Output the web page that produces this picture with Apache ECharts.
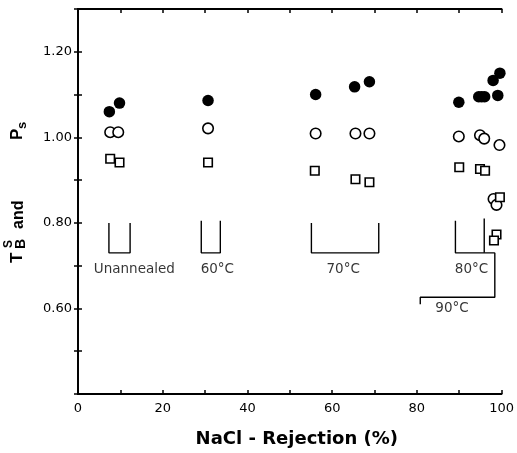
<!DOCTYPE html>
<html>
<head>
<meta charset="utf-8">
<script src="https://cdn.jsdelivr.net/npm/echarts@6/dist/echarts.min.js"></script>
<style>html,body{margin:0;padding:0;background:#fff;}#c{width:517px;height:453px;}</style>
</head>
<body>
<div id="c"></div>
<script>
// NaCl rejection (%) vs value
const filledCircles = [[7.4,1.060],[9.8,1.080],[30.7,1.086],[56.1,1.100],[65.3,1.118],[68.8,1.130],[89.9,1.082],[94.6,1.095],[95.3,1.095],[96.0,1.095],[99.1,1.098],[98.0,1.133],[99.6,1.150]];
const openCircles = [[7.6,1.012],[9.5,1.012],[30.7,1.021],[56.1,1.009],[65.5,1.009],[68.8,1.009],[89.9,1.002],[94.9,1.005],[95.9,0.997],[99.5,0.982],[98.1,0.856],[98.8,0.842]];
const openSquares = [[7.6,0.950],[9.8,0.941],[30.7,0.941],[55.9,0.922],[65.5,0.902],[68.8,0.895],[90.0,0.930],[94.9,0.926],[96.1,0.922],[99.6,0.860],[98.8,0.773],[98.2,0.759]];
const xTickLabels = [0,20,40,60,80,100];
const yTickLabels = [0.6,0.8,1.0,1.2];
// annotation brackets (data coordinates)
const brackets = [
  [[7.3,0.80],[7.3,0.73],[12.3,0.73],[12.3,0.80]],
  [[29.1,0.805],[29.1,0.73],[33.6,0.73],[33.6,0.805]],
  [[55.1,0.80],[55.1,0.73],[71.0,0.73],[71.0,0.80]],
  [[89.1,0.805],[89.1,0.73],[98.4,0.73]],
  [[95.9,0.81],[95.9,0.73]],
  [[98.4,0.73],[98.4,0.626],[80.8,0.626],[80.8,0.61]]
];
const groupLabels = ['Unannealed','60°C','70°C','80°C','90°C'];
const groupLabelPos = [[13.3,0.691],[32.9,0.69],[62.6,0.69],[92.9,0.69],[88.3,0.60]];

const chart = echarts.init(document.getElementById('c'), null, {renderer:'canvas'});
const axisLine = {show:true, lineStyle:{color:'#000', width:1.8}};
const axisTick = {show:true, inside:true, length:4, lineStyle:{color:'#000', width:1.5}};
const lblFont = {color:'#000', fontFamily:'DejaVu Sans', fontSize:13};

const series = [];
brackets.forEach(b => series.push({
  type:'line', data:b, symbol:'none', silent:true, animation:false,
  lineStyle:{color:'#000', width:1.4}, z:1
}));
series.push({type:'scatter', name:'Ps', data:filledCircles, symbol:'circle', symbolSize:11.5,
  itemStyle:{color:'#000', opacity:1}, animation:false, z:3});
series.push({type:'scatter', name:'open', data:openCircles, symbol:'circle', symbolSize:10.5,
  itemStyle:{color:'#fff', borderColor:'#000', borderWidth:1.6, opacity:1}, animation:false, z:3});
series.push({type:'scatter', name:'sq', data:openSquares, symbol:'rect', symbolSize:8.5,
  itemStyle:{color:'#fff', borderColor:'#000', borderWidth:1.6, opacity:1}, animation:false, z:3});
series.push({type:'scatter', data:groupLabelPos.map((p,i)=>({value:p, label:{formatter:groupLabels[i]}})),
  symbolSize:0, silent:true, animation:false,
  label:{show:true, position:'inside', color:'#000', fontFamily:'DejaVu Sans', fontSize:13.5}});

chart.setOption({
  animation:false,
  backgroundColor:'#fff',
  grid:{left:78, right:11, top:9, bottom:58},
  xAxis:[{
    type:'value', min:0, max:100, interval:10, position:'bottom',
    axisLine, axisTick, splitLine:{show:false},
    axisLabel:Object.assign({margin:8, showMaxLabel:true,
      formatter:v => xTickLabels.includes(v) ? String(v) : ''}, lblFont),
    name:'NaCl - Rejection (%)', nameLocation:'middle', nameGap:36,
    nameTextStyle:{color:'#000', fontFamily:'DejaVu Sans', fontWeight:'bold', fontSize:18, padding:[0,0,0,14]}
  },{
    type:'value', min:0, max:100, interval:10, position:'top',
    axisLine, axisTick, axisLabel:{show:false}, splitLine:{show:false}
  }],
  yAxis:[{
    type:'value', min:0.4, max:1.3, interval:0.1, position:'left',
    axisLine, axisTick, splitLine:{show:false},
    axisLabel:Object.assign({margin:6,
      formatter:v => yTickLabels.some(t=>Math.abs(t-v)<1e-6) ? v.toFixed(2) : ''}, lblFont)
  },{
    type:'value', min:0.4, max:1.3, interval:0.1, position:'right',
    axisLine, axisTick, axisLabel:{show:false}, splitLine:{show:false}
  }],
  graphic:[{
    type:'group', x:26, y:193, rotation:Math.PI/2,
    children:[
      {type:'text', x:-70, y:0, style:{text:'T', fontFamily:'Liberation Sans', fontWeight:'bold', fontSize:17, fill:'#000', textVerticalAlign:'bottom'}},
      {type:'text', x:-55, y:-11, style:{text:'S', fontFamily:'Liberation Sans', fontWeight:'bold', fontSize:12, fill:'#000', textVerticalAlign:'bottom'}},
      {type:'text', x:-56, y:2, style:{text:'B', fontFamily:'Liberation Sans', fontWeight:'bold', fontSize:14, fill:'#000', textVerticalAlign:'bottom'}},
      {type:'text', x:-36, y:1, style:{text:'and', fontFamily:'Liberation Sans', fontWeight:'bold', fontSize:16, fill:'#000', textVerticalAlign:'bottom'}},
      {type:'text', x:53, y:0, style:{text:'P', fontFamily:'Liberation Sans', fontWeight:'bold', fontSize:17, fill:'#000', textVerticalAlign:'bottom'}},
      {type:'text', x:64, y:3, style:{text:'s', fontFamily:'Liberation Sans', fontWeight:'bold', fontSize:13, fill:'#000', textVerticalAlign:'bottom'}}
    ]
  }],
  series
});
</script>
</body>
</html>
